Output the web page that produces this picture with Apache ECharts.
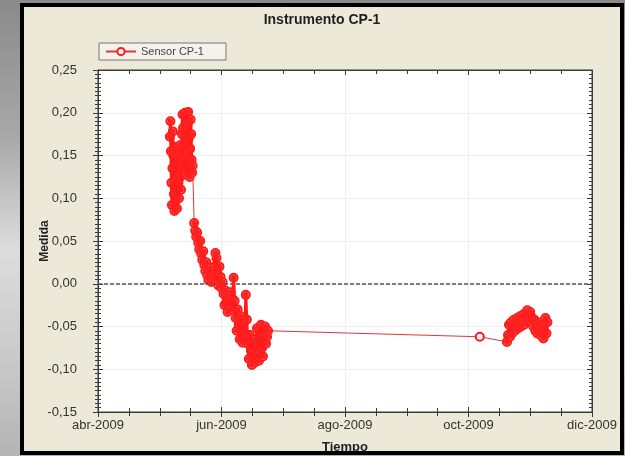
<!DOCTYPE html>
<html>
<head>
<meta charset="utf-8">
<script src="https://cdn.jsdelivr.net/npm/echarts@6/dist/echarts.min.js"></script>
<style>
html, body { margin: 0; padding: 0; width: 625px; height: 456px; overflow: hidden;
  background: linear-gradient(180deg, #8a8a8a 0%, #a8a8a8 30%, #dcdcdc 55%, #c8c8c8 80%, #b4b4b4 100%); }
#marco { position: absolute; left: 20px; top: 3px; width: 596px; height: 444px;
  border: 4px solid #000; background: #ece9d8; overflow: hidden; }
#grafico { width: 596px; height: 444px; }
</style>
</head>
<body>
<div id="marco"><div id="grafico"></div></div>
<script>
const origen = Date.UTC(2009, 3, 1)
const DIA = 86400000

const etiquetasX = ['abr-2009', 'jun-2009', 'ago-2009', 'oct-2009', 'dic-2009']

// lecturas cada 6 horas, desde el 6 de mayo
const inicioTramo1 = '2009-05-06T12:00:00Z'
const pasoTramo1 = 6
const valoresTramo1 = [
    0.172, 0.190, 0.155, 0.118, 0.092, 0.135, 0.178, 0.150, 0.105, 0.085, 0.122, 0.160, 0.140, 0.098, 0.088, 0.128,
    0.150, 0.118, 0.100, 0.138, 0.162, 0.125, 0.110, 0.145,
    0.175, 0.198, 0.182, 0.150, 0.132, 0.165, 0.200, 0.188, 0.155, 0.128, 0.148, 0.185, 0.201, 0.170, 0.140, 0.125,
    0.158, 0.192, 0.175, 0.145, 0.130, 0.138
]

// lecturas cada 12 horas, desde el 18 de mayo
const inicioTramo2 = '2009-05-18T12:00:00Z'
const pasoTramo2 = 12
const valoresTramo2 = [
    0.071, 0.062, 0.055, 0.060, 0.048, 0.040, 0.050, 0.035, 0.028, 0.038, 0.022, 0.015, 0.025, 0.010, 0.004, 0.018,
    0.008, 0.002, 0.012, 0.005, 0.020, 0.036,
    0.030, 0.012, -0.002, 0.020, 0.008, -0.005,
    0.002, -0.012, -0.025, -0.008, -0.020, -0.033, -0.015, -0.028, -0.010, -0.030, -0.018,
    0.007,
    -0.020, -0.040, -0.055, -0.030, -0.048, -0.065, -0.038, -0.058, -0.069, -0.045, -0.060, -0.013,
    -0.042, -0.070, -0.088, -0.060, -0.078, -0.095, -0.065, -0.085, -0.092, -0.070, -0.052, -0.080,
    -0.090, -0.062, -0.048, -0.075, -0.085, -0.058, -0.050, -0.070, -0.062, -0.055
]

const puntosSueltos = [['2009-10-06T14:00:00Z', -0.062]]

// lecturas cada 12 horas, desde el 20 de octubre
const inicioTramo3 = '2009-10-20T00:00:00Z'
const pasoTramo3 = 12
const valoresTramo3 = [
    -0.068, -0.060, -0.048, -0.062,
    -0.045, -0.058, -0.050, -0.042, -0.055, -0.048, -0.040, -0.052, -0.045, -0.038, -0.050, -0.044, -0.036, -0.048, -0.040,
    -0.034, -0.031, -0.042, -0.036, -0.033, -0.045, -0.040,
    -0.050, -0.042, -0.055, -0.046, -0.058, -0.048, -0.052, -0.060, -0.045, -0.055,
    -0.064, -0.048, -0.040, -0.058, -0.045
]

let dias = t => (Date.parse(t) - origen) / DIA

let tramo = (inicio, horas, valores) =>
    valores.map((v, i) => [dias(inicio) + i * horas / 24, v])

const t1 = tramo(inicioTramo1, pasoTramo1, valoresTramo1)
const t2 = tramo(inicioTramo2, pasoTramo2, valoresTramo2)
const t3 = tramo(inicioTramo3, pasoTramo3, valoresTramo3)
const sueltos = puntosSueltos.map(p => [dias(p[0]), p[1]])

const datos = [].concat(t1, t2, sueltos, t3)
// solo las zonas densas, para que el trazo quede por encima de los círculos
const relleno = [].concat(t1, [[null, null]], t2, [[null, null]], t3)

const fuente = "'Liberation Sans', Arial, sans-serif"
const ejeColor = '#3a3a3a'

let ejeX = extra => Object.assign({
    type: 'value', min: 0, max: 244, interval: 61,
    axisLine: { onZero: false, lineStyle: { color: ejeColor } },
    axisTick: { length: 5, lineStyle: { color: ejeColor } },
    minorTick: { show: true, splitNumber: 4, length: 4, lineStyle: { color: ejeColor } },
    axisLabel: { show: false },
    splitLine: { show: false }
}, extra)

let ejeY = extra => Object.assign({
    type: 'value', min: -0.15, max: 0.25, interval: 0.05,
    axisLine: { onZero: false, lineStyle: { color: ejeColor } },
    axisTick: { length: 5, lineStyle: { color: ejeColor } },
    minorTick: { show: true, splitNumber: 10, length: 3, lineStyle: { color: ejeColor } },
    axisLabel: { show: false },
    splitLine: { show: false }
}, extra)

const chart = echarts.init(document.getElementById('grafico'))

chart.setOption({
    animation: false,
    title: {
        text: 'Instrumento CP-1', left: 'center', top: 1,
        textStyle: { fontFamily: fuente, fontSize: 14, fontWeight: 'bold', color: '#1e1e1e' }
    },
    legend: {
        data: ['Sensor CP-1'],
        left: 75, top: 36,
        padding: [3, 22, 3, 6],
        itemWidth: 30, itemHeight: 9,
        backgroundColor: '#f4f2ea',
        borderColor: '#777', borderWidth: 1, borderRadius: 0,
        textStyle: { fontFamily: fuente, fontSize: 11, color: '#444' }
    },
    grid: {
        left: 74, right: 28, top: 63, bottom: 39, outerBoundsMode: 'none',
        show: true, backgroundColor: '#fff', borderColor: ejeColor
    },
    xAxis: [
        ejeX({
            position: 'bottom',
            axisLabel: {
                show: true, margin: 7, fontFamily: fuente, fontSize: 13, color: '#333',
                formatter: v => etiquetasX[Math.round(v / 61)]
            },
            splitLine: { show: true, lineStyle: { color: '#efefef' } },
            name: 'Tiempo', nameLocation: 'middle', nameGap: 29, nameMoveOverlap: false,
            nameTextStyle: { fontFamily: fuente, fontSize: 13, fontWeight: 'bold', color: '#222' }
        }),
        ejeX({ position: 'bottom', axisTick: { inside: true, length: 5, lineStyle: { color: ejeColor } },
            minorTick: { show: true, splitNumber: 4, length: 4, lineStyle: { color: ejeColor } } }),
        ejeX({ position: 'top', axisTick: { inside: true, length: 5, lineStyle: { color: ejeColor } } })
    ],
    yAxis: [
        ejeY({
            position: 'left',
            axisLabel: {
                show: true, margin: 21, fontFamily: fuente, fontSize: 13, color: '#333',
                formatter: v => v.toFixed(2).replace('.', ',')
            },
            splitLine: { show: true, lineStyle: { color: '#efefef' } },
            name: 'Medida', nameLocation: 'middle', nameGap: 47, nameMoveOverlap: false,
            nameTextStyle: { fontFamily: fuente, fontSize: 12, fontWeight: 'bold', color: '#222' }
        }),
        ejeY({ position: 'left', axisTick: { inside: true, length: 5, lineStyle: { color: ejeColor } },
            minorTick: { show: true, splitNumber: 10, length: 3, lineStyle: { color: ejeColor } } }),
        ejeY({ position: 'right', axisTick: { inside: true, length: 5, lineStyle: { color: ejeColor } },
            minorTick: { show: true, splitNumber: 10, length: 3, lineStyle: { color: ejeColor } } })
    ],
    series: [{
        name: 'Sensor CP-1',
        type: 'line',
        data: datos,
        symbol: 'emptyCircle',
        symbolSize: 8,
        showAllSymbol: true,
        itemStyle: { color: '#ff1a1a', borderWidth: 1 },
        lineStyle: { color: '#d83a3a', width: 1 },
        markLine: {
            silent: true,
            symbol: ['none', 'none'],
            label: { show: false },
            lineStyle: { color: '#555', type: [4, 2], width: 1.5 },
            data: [{ yAxis: 0 }]
        }
    }, {
        name: 'relleno',
        type: 'line',
        data: relleno,
        symbol: 'circle',
        symbolSize: 6,
        showAllSymbol: true,
        z: 5,
        silent: true,
        itemStyle: { color: '#ff2020', borderWidth: 0 },
        lineStyle: { color: '#ff1a1a', width: 3, join: 'round' }
    }]
})

window.addEventListener('resize', () => chart.resize())
</script>
</body>
</html>
